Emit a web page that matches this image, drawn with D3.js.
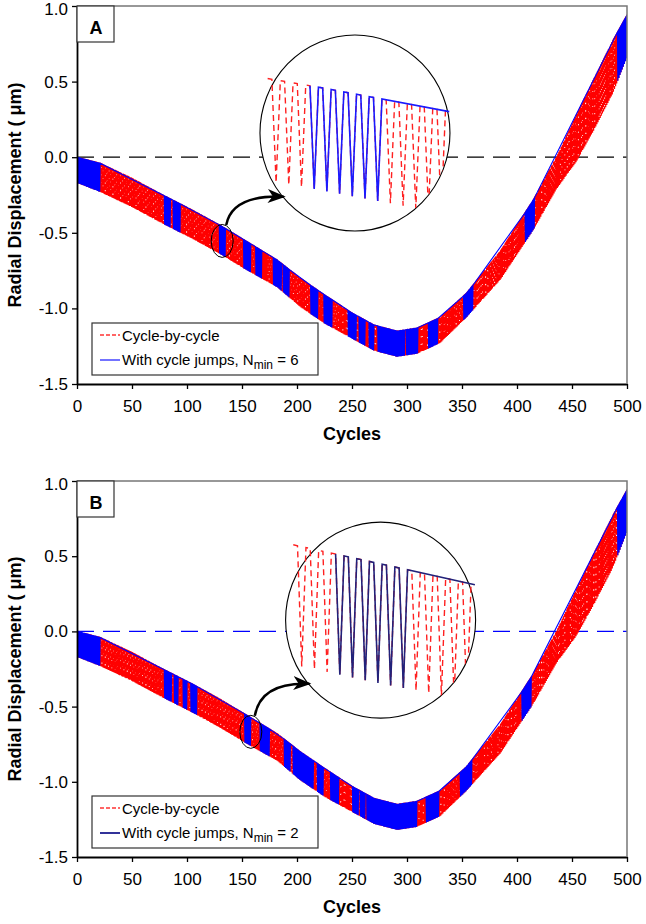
<!DOCTYPE html>
<html><head><meta charset="utf-8">
<script src="https://cdn.jsdelivr.net/npm/d3@7"></script>
<style>body{margin:0;background:#fff}svg{display:block;font-family:"Liberation Sans",Arial,Helvetica,sans-serif}</style>
</head><body><svg id="c" width="646" height="924"></svg>
<script>
// ---- data ----
const envCycles = [0, 21, 50, 78, 105, 130, 155, 182, 203, 225, 250, 270, 291, 309, 330, 354, 385, 415, 436, 454, 470, 487, 500];
const envUpper  = [0.00, -0.04, -0.14, -0.25, -0.35, -0.45, -0.56, -0.68, -0.80, -0.91, -1.03, -1.11, -1.15, -1.13, -1.06, -0.90, -0.62, -0.28, 0.00, 0.28, 0.52, 0.77, 0.94];
const envLower  = [-0.17, -0.23, -0.33, -0.44, -0.54, -0.64, -0.75, -0.86, -0.99, -1.10, -1.20, -1.28, -1.32, -1.30, -1.23, -1.06, -0.81, -0.48, -0.21, -0.03, 0.18, 0.42, 0.66];
// cycle ranges simulated cycle-by-cycle in the cycle-jump runs (blue bands)
const bandsA = [[0,21],[79,85],[87,94],[129,135],[151,158],[162,168],[178,186],[187,193],[212,219],[224,232],[246,254],[256,262],[265,270],[273,298],[299,310],[319,328],[351,360],[407,416],[491,500]];
const bandsB = [[0,21],[79,86],[88,92],[96,100],[103,109],[152,158],[166,175],[188,194],[196,215],[218,224],[230,238],[250,256],[257,262],[263,309],[317,329],[348,359],[404,413],[491,500]];
const xTicks = [0, 50, 100, 150, 200, 250, 300, 350, 400, 450, 500];
const yTicks = [1.0, 0.5, 0.0, -0.5, -1.0, -1.5];
const seriesNames = ["Cycle-by-cycle", "With cycle jumps, N"];
const nMin = {A: 6, B: 2};
// zoomed windows (cycles) shown in the circles
const insetWindow = {A: [126, 140.3], B: [149, 163.3]};
const insetBand = {A: [129, 135], B: [152, 158]};

// ---- layout ----
const panels = [
  {id: "A", top: 6, bottom: 384, bands: bandsA, jump: "#0000ff", legendJump: "#5050ff", insetJump: "#1a1aff", zero: "#000",
   circleAt: [252.7, 0.16], ellipseAt: 132, ky: 540, yOff: -48},
  {id: "B", top: 481, bottom: 857, bands: bandsB, jump: "#0000ff", legendJump: "#000080", insetJump: "#22227a", zero: "#0000ff",
   circleAt: [276, 0.075], ellipseAt: 158, ky: 630, yOff: -67}
];
const L = 77, R = 627;

const U = d3.scaleLinear().domain(envCycles).range(envUpper);
const Lo = d3.scaleLinear().domain(envCycles).range(envLower);

function teeth(c0, c1) {
  const pts = [];
  for (let c = c0; c < c1; c++) {
    pts.push([c, U(c)], [c + 1/3, U(c + 1/3)], [c + 2/3, Lo(c + 2/3)]);
  }
  pts.push([c1, U(c1)]);
  return pts;
}

const svg = d3.select("#c");
const defs = svg.append("defs");
defs.append("marker").attr("id", "ah").attr("markerUnits", "userSpaceOnUse")
  .attr("viewBox", "0 -8 20 16").attr("refX", 16).attr("refY", 0)
  .attr("markerWidth", 20).attr("markerHeight", 16).attr("orient", "auto")
  .append("path").attr("d", "M0,-7 L18,0 L0,7 L5,0 Z").attr("fill", "#000");

panels.forEach((p, pi) => {
  const x = d3.scaleLinear().domain([0, 500]).range([L, R]);
  const y = d3.scaleLinear().domain([-1.5, 1.0]).range([p.bottom, p.top]);
  const g = svg.append("g");

  defs.append("clipPath").attr("id", "plot" + pi).append("rect")
    .attr("x", L).attr("y", p.top).attr("width", R - L).attr("height", p.bottom - p.top);

  // zero line
  g.append("line").attr("x1", x(0)).attr("x2", x(500)).attr("y1", y(0)).attr("y2", y(0))
    .attr("stroke", p.zero).attr("stroke-width", 1.2).attr("stroke-dasharray", "17 9");

  const line = d3.line().x(d => x(d[0])).y(d => y(d[1]));
  const data = g.append("g").attr("clip-path", `url(#plot${pi})`);
  // cycle-by-cycle
  data.append("path").attr("d", line(teeth(0, 500))).attr("fill", "none")
    .attr("stroke", "#ff0000").attr("stroke-width", 1.2).attr("stroke-dasharray", "6 1.5");
  // with cycle jumps
  let bp = [];
  p.bands.forEach(b => { bp = bp.concat(teeth(b[0], b[1])); });
  data.append("path").attr("d", line(bp)).attr("fill", "none")
    .attr("stroke", p.jump).attr("stroke-width", 1.1);

  // axes
  const ax = g.append("g").attr("transform", `translate(0,${p.bottom})`)
    .call(d3.axisBottom(x).tickValues(xTicks).tickSize(5).tickSizeOuter(0).tickPadding(11).tickFormat(d3.format("d")));
  const ay = g.append("g").attr("transform", `translate(${L},0)`)
    .call(d3.axisLeft(y).tickValues(yTicks).tickSize(5).tickSizeOuter(0).tickPadding(4).tickFormat(d => d.toFixed(1)));
  [ax, ay].forEach(a => {
    a.selectAll("text").attr("font-size", 17).attr("fill", "#000").attr("font-family", "Liberation Sans, Arial, sans-serif");
    a.selectAll("line").attr("stroke", "#000").attr("stroke-width", 1.3);
  });
  ay.selectAll(".tick text").filter(d => d === 1.0).attr("dy", "0.5em");
  ax.select(".domain").attr("stroke", "#000").attr("stroke-width", 2);
  ay.select(".domain").attr("stroke", "#000").attr("stroke-width", 1.8);
  // top & right frame
  g.append("path").attr("d", `M${L},${p.top}H${R}V${p.bottom}`).attr("fill", "none")
    .attr("stroke", "#777").attr("stroke-width", 1.5);

  // titles
  g.append("text").attr("x", (L + R) / 2).attr("y", p.bottom + 56).attr("text-anchor", "middle")
    .attr("font-weight", "bold").attr("font-size", 18).text("Cycles");
  g.append("text").attr("transform", `translate(21,${(p.top + p.bottom) / 2}) rotate(-90)`)
    .attr("text-anchor", "middle").attr("font-weight", "bold").attr("font-size", 18)
    .text("Radial Displacement ( \u03bcm)");

  // panel label
  g.append("rect").attr("x", L).attr("y", p.top).attr("width", 37).attr("height", 36)
    .attr("fill", "#fff").attr("stroke", "#333").attr("stroke-width", 1.2);
  g.append("text").attr("x", L + 19).attr("y", p.top + 28).attr("text-anchor", "middle")
    .attr("font-weight", "bold").attr("font-size", 18).text(p.id);

  // legend
  const lg = g.append("g").attr("transform", `translate(92,${p.bottom - 61})`);
  lg.append("rect").attr("width", 226).attr("height", 52).attr("fill", "#fff")
    .attr("stroke", "#333").attr("stroke-width", 1.2);
  lg.append("line").attr("x1", 8).attr("x2", 28).attr("y1", 12).attr("y2", 12)
    .attr("stroke", "#ff3333").attr("stroke-width", 1.3).attr("stroke-dasharray", "4 2");
  lg.append("text").attr("x", 30).attr("y", 18).attr("font-size", 15).text(seriesNames[0]);
  lg.append("line").attr("x1", 8).attr("x2", 28).attr("y1", 37).attr("y2", 37)
    .attr("stroke", p.legendJump).attr("stroke-width", 1.6);
  const t2 = lg.append("text").attr("x", 30).attr("y", 42).attr("font-size", 15);
  t2.append("tspan").text(seriesNames[1]);
  t2.append("tspan").attr("font-size", 12).attr("dy", 4).text("min");
  t2.append("tspan").attr("dy", -4).text(" = " + nMin[p.id]);

  // small ellipse marking zoom region
  const ex = x(p.ellipseAt), ey = y((U(p.ellipseAt) + Lo(p.ellipseAt)) / 2);
  g.append("ellipse").attr("cx", ex).attr("cy", ey).attr("rx", 11).attr("ry", 16.5)
    .attr("fill", "none").attr("stroke", "#000").attr("stroke-width", 1);

  // inset circle
  const cx = x(p.circleAt[0]), cy = y(p.circleAt[1]), rx = 95, ry = 98;
  g.append("ellipse").attr("cx", cx).attr("cy", cy).attr("rx", rx).attr("ry", ry)
    .attr("fill", "#fff").attr("stroke", "#000").attr("stroke-width", 1.1);

  // arrow
  const ang = 139.5 * Math.PI / 180;
  const tx = cx + rx * Math.cos(ang) + 1, ty = cy + ry * Math.sin(ang);
  const sx = ex + 4, sy = ey - 16;
  g.append("path").attr("d", `M${sx},${sy} Q${sx + 6},${ty - 2} ${tx},${ty}`)
    .attr("fill", "none").attr("stroke", "#000").attr("stroke-width", 2.5).attr("marker-end", "url(#ah)");

  // inset content
  const w = insetWindow[p.id], b = insetBand[p.id];
  const xi = d3.scaleLinear().domain([b[0] + 1/3, b[0] + 4/3]).range([cx - 45, cx - 45 + 12.7]);
  const yi = d3.scaleLinear().domain([U(b[0]), U(b[0]) - 1]).range([cy + p.yOff, cy + p.yOff + p.ky]);
  const cp = defs.append("clipPath").attr("id", "ins" + pi);
  cp.append("ellipse").attr("cx", cx).attr("cy", cy).attr("rx", rx).attr("ry", ry);
  cp.append("rect").attr("x", cx - 110).attr("y", cy - 115).attr("width", 215).attr("height", 100);
  const li = d3.line().x(d => xi(d[0])).y(d => yi(d[1]));
  const ig = g.append("g").attr("clip-path", `url(#ins${pi})`);
  ig.append("path").attr("d", li(teeth(Math.floor(w[0]), Math.floor(w[1])))).attr("fill", "none")
    .attr("stroke", "#ff2020").attr("stroke-width", 1.4).attr("stroke-dasharray", "6 4");
  const bi = teeth(b[0], b[1]).slice(1);
  bi.push([w[1], U(w[1])]);
  ig.append("path").attr("d", li(bi)).attr("fill", "none")
    .attr("stroke", p.insetJump).attr("stroke-width", 1.6);
});
</script></body></html>
